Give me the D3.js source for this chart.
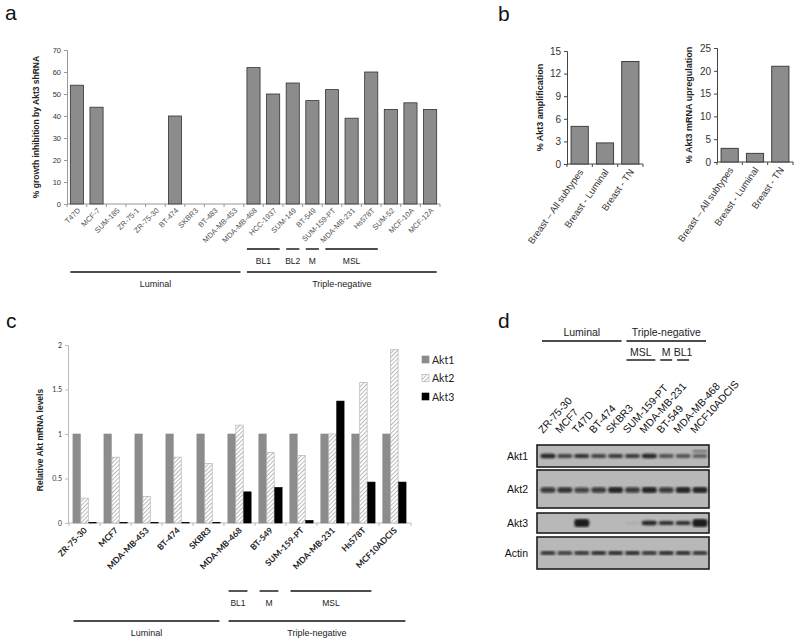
<!DOCTYPE html>
<html>
<head>
<meta charset="utf-8">
<title>Akt3 in breast cancer cell lines</title>
<script src="https://d3js.org/d3.v7.min.js"></script>
<style>
  body { margin: 0; background: #fff; }
  text { font-family: "Liberation Sans", Arial, sans-serif; }
  .calib text { font-family: Lato, "Liberation Sans", sans-serif; }
</style>
</head>
<body>
<div id="fig"></div>
<script>

// ---- panel a: growth inhibition by Akt3 shRNA
const cellLinesA = ["T47D", "MCF-7", "SUM-185", "ZR-75-1", "ZR-75-30", "BT-474", "SKBR3", "BT-483",
  "MDA-MB-453", "MDA-MB-468", "HCC-1937", "SUM-149", "BT-549", "SUM-159-PT", "MDA-MB-231",
  "Hs578T", "SUM-52", "MCF-10A", "MCF-12A"];
const inhibitionA = [54, 44, 0, 0, 0, 40, 0, 0, 0, 62, 50, 55, 47, 52, 39, 60, 43, 46, 43];
const ticksA = [0, 10, 20, 30, 40, 50, 60, 70];
const subtypesA = [
  { name: "BL1", from: "MDA-MB-468", to: "HCC-1937" },
  { name: "BL2", from: "SUM-149", to: "SUM-149" },
  { name: "M", from: "BT-549", to: "BT-549" },
  { name: "MSL", from: "SUM-159-PT", to: "Hs578T" }
];
const groupsA = [
  { name: "Luminal", from: "T47D", to: "MDA-MB-453" },
  { name: "Triple-negative", from: "MDA-MB-468", to: "MCF-12A" }
];

// ---- panel b
const categoriesB = ["Breast \u2013 All subtypes", "Breast - Luminal", "Breast - TN"];
const amplificationB = [5, 2.8, 13.6];
const ticksAmpB = [0, 3, 6, 9, 12, 15];
const upregulationB = [3, 1.9, 21];
const ticksUpB = [0, 5, 10, 15, 20, 25];

// ---- panel c: relative Akt mRNA levels
const cellLinesC = ["ZR-75-30", "MCF7", "MDA-MB-453", "BT-474", "SKBR3", "MDA-MB-468", "BT-549",
  "SUM-159-PT", "MDA-MB-231", "Hs578T", "MCF10ADCIS"];
const isoformsC = ["Akt1", "Akt2", "Akt3"];
const akt1C = [1, 1, 1, 1, 1, 1, 1, 1, 1, 1, 1];
const akt2C = [0.28, 0.74, 0.30, 0.74, 0.67, 1.10, 0.79, 0.76, 1.0, 1.58, 1.95];
const akt3C = [0.005, 0.005, 0.005, 0.005, 0.005, 0.35, 0.40, 0.03, 1.37, 0.46, 0.46];
const ticksC = [0, 0.5, 1, 1.5, 2];
const subtypesC = [
  { name: "BL1", from: "MDA-MB-468", to: "MDA-MB-468" },
  { name: "M", from: "BT-549", to: "BT-549" },
  { name: "MSL", from: "SUM-159-PT", to: "Hs578T" }
];
const groupsC = [
  { name: "Luminal", from: "ZR-75-30", to: "SKBR3" },
  { name: "Triple-negative", from: "MDA-MB-468", to: "MCF10ADCIS" }
];

// ---- panel d: western blot (band intensity 0..1 per lane)
const lanesD = ["ZR-75-30", "MCF7", "T47D", "BT-474", "SKBR3", "SUM-159-PT", "MDA-MB-231",
  "BT-549", "MDA-MB-468", "MCF10ADCIS"];
const rowsD = ["Akt1", "Akt2", "Akt3", "Actin"];
const akt1Bands = [0.95, 0.75, 0.85, 0.75, 0.8, 0.8, 0.95, 0.65, 0.65, 0.6];
const akt1Upper = [0, 0, 0, 0, 0, 0, 0, 0, 0, 0.45];
const akt2Bands = [0.8, 0.85, 0.75, 0.8, 0.95, 0.8, 0.95, 0.8, 0.95, 0.95];
const akt3Bands = [0, 0, 1, 0, 0, 0.07, 0.95, 0.85, 0.85, 1];
const actinBands = [0.8, 0.75, 0.8, 0.85, 0.85, 0.85, 0.8, 0.85, 0.85, 0.8];
const subtypesD = [
  { name: "MSL", from: "SUM-159-PT", to: "MDA-MB-231" },
  { name: "M", from: "BT-549", to: "BT-549" },
  { name: "BL1", from: "MDA-MB-468", to: "MDA-MB-468" }
];
const groupsD = [
  { name: "Luminal", from: "ZR-75-30", to: "SKBR3" },
  { name: "Triple-negative", from: "SUM-159-PT", to: "MCF10ADCIS" }
];

const width = 800;
const height = 643;

const svg = d3.select("#fig").append("svg")
  .attr("width", width)
  .attr("height", height);

svg.append("rect").attr("width", width).attr("height", height).attr("fill", "#fff");

const defs = svg.append("defs");
const hatch = defs.append("pattern")
  .attr("id", "hatch")
  .attr("patternUnits", "userSpaceOnUse")
  .attr("width", 3).attr("height", 3)
  .attr("patternTransform", "rotate(45)");
hatch.append("rect").attr("width", 3).attr("height", 3).attr("fill", "#fff");
hatch.append("line").attr("x1", 0).attr("y1", 0).attr("x2", 0).attr("y2", 3)
  .attr("stroke", "#a8a8a8").attr("stroke-width", 1.6);
defs.append("filter").attr("id", "blur")
  .append("feGaussianBlur").attr("stdDeviation", 0.9);

// panel letters
[["a", 5, 20], ["b", 498, 21], ["c", 6, 328], ["d", 498, 328]].forEach(([t, x, y]) => {
  svg.append("text").attr("x", x).attr("y", y).attr("font-size", 21).attr("fill", "#111").text(t);
});

// category axis line with ticks between categories
function catAxis(g, scale, y, color) {
  const [r0, r1] = scale.range();
  g.append("line").attr("x1", r0).attr("x2", r1).attr("y1", y).attr("y2", y)
    .attr("stroke", color).attr("stroke-width", 1);
  const gap = (scale.step() - scale.bandwidth()) / 2;
  const bounds = scale.domain().map(c => scale(c) - gap);
  bounds.push(r1);
  g.selectAll(null).data(bounds).enter().append("line")
    .attr("x1", d => d).attr("x2", d => d)
    .attr("y1", y).attr("y2", y + 3)
    .attr("stroke", color);
}

function valueAxis(g, scale, x, ticks, size, color) {
  const ax = g.append("g").attr("transform", `translate(${x},0)`)
    .call(d3.axisLeft(scale).tickValues(ticks).tickSize(3).tickPadding(3).tickFormat(d3.format("")));
  ax.select(".domain").attr("stroke", color);
  ax.selectAll(".tick line").attr("stroke", color);
  ax.selectAll(".tick text").attr("font-size", size).attr("fill", "#333").attr("font-family", null);
  return ax;
}

function brackets(g, spans, scale, offA, offB, yLine, yText, size) {
  spans.forEach(s => {
    const x1 = scale(s.from) + offA;
    const x2 = scale(s.to) + offB;
    g.append("line").attr("x1", x1).attr("x2", x2).attr("y1", yLine).attr("y2", yLine)
      .attr("stroke", "#111").attr("stroke-width", 1.4);
    g.append("text").attr("x", (x1 + x2) / 2).attr("y", yText)
      .attr("text-anchor", "middle").attr("font-size", size).attr("fill", "#222").text(s.name);
  });
}

// ================= panel a
{
  const g = svg.append("g");
  const x = d3.scaleBand().domain(cellLinesA).range([67, 440]).paddingInner(0.33).paddingOuter(0.17);
  const y = d3.scaleLinear().domain([0, 70]).range([204, 50]);

  valueAxis(g, y, 67, ticksA, 7.5, "#999");
  catAxis(g, x, 204, "#999");

  g.selectAll(".bar").data(cellLinesA.map((c, i) => ({ c, v: inhibitionA[i] })).filter(d => d.v > 0))
    .enter().append("rect")
    .attr("x", d => x(d.c)).attr("width", x.bandwidth())
    .attr("y", d => y(d.v)).attr("height", d => y(0) - y(d.v))
    .attr("fill", "#8c8c8c").attr("stroke", "#333").attr("stroke-width", 0.8);

  g.selectAll(".xl").data(cellLinesA).enter().append("text")
    .attr("transform", d => `translate(${x(d) + x.bandwidth() / 2 + 4},${211}) rotate(-45)`)
    .attr("text-anchor", "end").attr("font-size", 7.5).attr("fill", "#555").text(d => d);

  g.append("text")
    .attr("transform", `translate(39,${(50 + 204) / 2}) rotate(-90)`)
    .attr("text-anchor", "middle").attr("font-size", 8.5).attr("font-weight", "bold").attr("fill", "#222")
    .text("% growth inhibition by Akt3 shRNA");

  brackets(g, subtypesA, x, 0, x.bandwidth(), 249, 264, 8.5);
  brackets(g, groupsA, x, 0, x.bandwidth(), 272, 287, 9);
}

// ================= panel b
function panelB(x0, x1, yTop, y0, max, ticks, values, label, labelX) {
  const g = svg.append("g");
  const x = d3.scaleBand().domain(categoriesB).range([x0, x1]).paddingInner(0.32).paddingOuter(0.16);
  const y = d3.scaleLinear().domain([0, max]).range([y0, yTop]);
  valueAxis(g, y, x0, ticks, 10, "#444");
  catAxis(g, x, y0, "#444");
  g.selectAll(".bar").data(categoriesB.map((c, i) => ({ c, v: values[i] })))
    .enter().append("rect")
    .attr("x", d => x(d.c)).attr("width", x.bandwidth())
    .attr("y", d => y(d.v)).attr("height", d => y(0) - y(d.v))
    .attr("fill", "#8c8c8c").attr("stroke", "#333").attr("stroke-width", 0.9);
  g.selectAll(".xl").data(categoriesB).enter().append("text")
    .attr("transform", d => `translate(${x(d) + x.bandwidth() / 2 + 4},${y0 + 8}) rotate(-55)`)
    .attr("text-anchor", "end").attr("font-size", 9.5).attr("fill", "#333").text(d => d);
  g.append("text")
    .attr("transform", `translate(${labelX},${(yTop + y0) / 2}) rotate(-90)`)
    .attr("text-anchor", "middle").attr("font-size", 9).attr("font-weight", "bold").attr("fill", "#222")
    .text(label);
}
panelB(567, 643, 51, 164, 15, ticksAmpB, amplificationB, "% Akt3 amplification", 543);
panelB(717, 793, 48, 162, 25, ticksUpB, upregulationB, "% Akt3 mRNA upregulation", 692);

// ================= panel c
{
  const g = svg.append("g").attr("class", "calib");
  const x = d3.scaleBand().domain(cellLinesC).range([68, 411]).paddingInner(0.23).paddingOuter(0.15);
  const xs = d3.scaleBand().domain(isoformsC).range([0, x.bandwidth()]);
  const y = d3.scaleLinear().domain([0, 2]).range([523, 345]);
  const fills = { Akt1: "#8c8c8c", Akt2: "url(#hatch)", Akt3: "#000" };
  const strokes = { Akt1: "#888", Akt2: "#aaa", Akt3: "#000" };

  valueAxis(g, y, 68, ticksC, 7, "#bbb");
  catAxis(g, x, 523, "#bbb");

  const series = { Akt1: akt1C, Akt2: akt2C, Akt3: akt3C };
  const groups = g.selectAll(".grp").data(cellLinesC).enter().append("g")
    .attr("transform", d => `translate(${x(d)},0)`);
  groups.selectAll("rect").data((d, i) => isoformsC.map(k => ({ k, v: series[k][i] })))
    .enter().append("rect")
    .attr("x", d => xs(d.k) + 0.3).attr("width", xs.bandwidth() - 0.6)
    .attr("y", d => y(d.v)).attr("height", d => y(0) - y(d.v))
    .attr("fill", d => fills[d.k]).attr("stroke", d => strokes[d.k]).attr("stroke-width", 0.6);

  g.selectAll(".xl").data(cellLinesC).enter().append("text")
    .attr("transform", d => `translate(${x(d) + x.bandwidth() / 2 + 3},${531}) rotate(-45)`)
    .attr("text-anchor", "end").attr("font-size", 8.5).attr("font-weight", "bold").attr("fill", "#222").text(d => d);

  g.append("text")
    .attr("transform", `translate(43,${440}) rotate(-90)`)
    .attr("text-anchor", "middle").attr("font-size", 8.5).attr("font-weight", "bold").attr("fill", "#222")
    .style("font-family", "'Liberation Sans', Arial, sans-serif")
    .text("Relative Akt mRNA levels");

  const leg = g.selectAll(".leg").data(isoformsC).enter().append("g")
    .attr("transform", (d, i) => `translate(422,${356 + i * 18.5})`);
  leg.append("rect").attr("width", 7).attr("height", 7)
    .attr("fill", d => fills[d]).attr("stroke", d => strokes[d]).attr("stroke-width", 0.6);
  leg.append("text").attr("x", 10).attr("y", 7.5).attr("font-size", 10.5).attr("fill", "#222").text(d => d);

  const gb = svg.append("g");
  brackets(gb, subtypesC, x, 1, x.bandwidth() - 4, 591, 606, 8.5);
  brackets(gb, groupsC, x, 1, x.bandwidth() - 1, 621, 636, 9);
}

// ================= panel d
{
  const g = svg.append("g");
  const lane = d3.scalePoint().domain(lanesD).range([548, 700]);
  const boxes = { Akt1: [445, 467], Akt2: [470, 508], Akt3: [513, 533], Actin: [537, 569] };
  const bandY = { Akt1: 456, Akt2: 490, Akt3: 523, Actin: 553 };
  const bands = { Akt1: akt1Bands, Akt2: akt2Bands, Akt3: akt3Bands, Actin: actinBands };

  brackets(g, groupsD, lane, -6, 6, 341, 336, 10.5);
  brackets(g, subtypesD, lane, -6, 6, 360, 356, 10.5);

  g.selectAll(".ll").data(lanesD).enter().append("text")
    .attr("transform", d => `translate(${lane(d) - 5},434) rotate(-48)`)
    .attr("font-size", 10.5).attr("fill", "#111").text(d => d);

  rowsD.forEach(r => {
    const [t, b] = boxes[r];
    g.append("rect").attr("x", 537).attr("y", t).attr("width", 172).attr("height", b - t)
      .attr("fill", "#b8b8b8").attr("stroke", "#1e1e1e").attr("stroke-width", 1.6);
    g.append("text").attr("x", 528).attr("y", (t + b) / 2 + 3.5)
      .attr("text-anchor", "end").attr("font-size", 10.5).attr("fill", "#111").text(r);
    const bg = g.append("g").attr("filter", "url(#blur)");
    const bh = d => (r === "Akt3" && d.v === 1 ? 8 : r === "Akt2" ? 3 + 3 * d.v : 2.5 + 2 * d.v);
    bg.selectAll("rect").data(lanesD.map((l, i) => ({ l, v: bands[r][i] })).filter(d => d.v > 0))
      .enter().append("rect")
      .attr("x", d => lane(d.l) - 7.5).attr("width", 15)
      .attr("y", d => bandY[r] - bh(d) / 2).attr("height", bh)
      .attr("rx", 3)
      .attr("fill", "#1a1a1a").attr("opacity", d => d.v);
    if (r === "Akt1") {
      bg.selectAll(".up").data(lanesD.map((l, i) => ({ l, v: akt1Upper[i] })).filter(d => d.v > 0))
        .enter().append("rect")
        .attr("x", d => lane(d.l) - 7.5).attr("width", 15)
        .attr("y", bandY[r] - 6).attr("height", 2.5).attr("rx", 1)
        .attr("fill", "#1a1a1a").attr("opacity", d => d.v);
    }
  });
}

</script>
</body>
</html>
